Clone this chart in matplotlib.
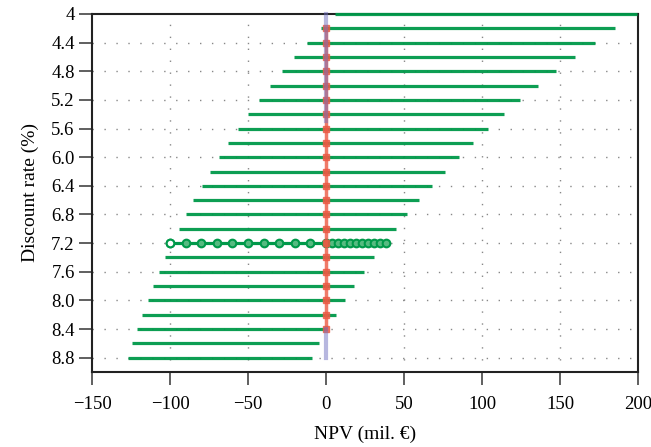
import numpy as np
import matplotlib.pyplot as plt

plt.rcParams['font.family'] = ['Liberation Serif', 'DejaVu Serif']

# discount rates (%) and NPV range (mil. EUR) at each rate
rates = [4.0, 4.2, 4.4, 4.6, 4.8, 5.0, 5.2, 5.4, 5.6, 5.8, 6.0, 6.2, 6.4,
         6.6, 6.8, 7.0, 7.2, 7.4, 7.6, 7.8, 8.0, 8.2, 8.4, 8.6, 8.8]
npv_min = [6, -3.2, -12, -20.3, -28.2, -35.9, -43.2, -50, -56.6, -62.8, -68.8,
           -74.6, -79.7, -85, -89.7, -94.2, -100, -103, -107, -110.7, -114.3,
           -117.7, -121, -124.2, -127.1]
npv_max = [199.5, 185.5, 172.2, 159.4, 147.2, 135.7, 124.6, 113.9, 103.8, 94.2,
           85.0, 76.1, 67.7, 59.6, 51.9, 44.7, 38.2, 30.8, 24.1, 18.2, 12.2,
           6.4, 0.5, -4.3, -9.2]

# highlighted rate with sample points
hl_rate = 7.2
hl_points = [-100, -90, -80, -70, -60, -50, -40, -30, -20, -10, 0,
             3.8, 7.6, 11.5, 15.3, 19.1, 22.9, 26.7, 30.6, 34.4, 38.2]

# zero markers
red_rates = [4.2, 4.4, 4.6, 4.8, 5.0, 5.2, 5.4, 5.6, 5.8, 6.0, 6.2, 6.4, 6.6,
             6.8, 7.0, 7.2, 7.4, 7.6, 7.8, 8.0, 8.2, 8.4]
blue_segments = [(4.0, 5.5), (8.4, 8.8)]

ytick_vals = [4.0, 4.4, 4.8, 5.2, 5.6, 6.0, 6.4, 6.8, 7.2, 7.6, 8.0, 8.4, 8.8]
ytick_labels = ['4', '4.4', '4.8', '5.2', '5.6', '6.0', '6.4', '6.8', '7.2',
                '7.6', '8.0', '8.4', '8.8']
xtick_vals = [-150, -100, -50, 0, 50, 100, 150, 200]

green = '#00994a'
fig = plt.figure(figsize=(6.51, 4.47), dpi=100)
ax = fig.add_axes([0.1413, 0.1678, 0.8387, 0.8009])

# dotted grid
for xv in xtick_vals[1:-1]:
    if xv != 0:
        ax.axvline(xv, color='#888888', lw=1, ls=(0, (1, 7.6)), zorder=0)
for yv in ytick_vals[1:]:
    ax.axhline(yv, color='#888888', lw=1, ls=(0, (1, 7.6)), zorder=0)

for r, lo, hi in zip(rates, npv_min, npv_max):
    if r == hl_rate:
        continue
    ax.plot([lo, hi], [r, r], color=green, lw=2.3, solid_capstyle='butt',
            zorder=3, clip_on=False, alpha=0.95)

ax.plot(hl_points, [hl_rate] * len(hl_points), color=green, lw=2.3,
        marker='o', ms=5.5, mfc='#55bb80', mec=green, mew=1.5, zorder=4)
ax.plot(hl_points[0], hl_rate, marker='o', ms=5.5, mfc='white', mec=green,
        mew=1.5, zorder=5)

ax.plot([0] * len(red_rates), red_rates, color='#ec5a44', lw=2.5,
        marker='s', ms=5, alpha=0.8, zorder=5)
for a, b in blue_segments:
    ax.plot([0, 0], [a, b], color='#7070c0', lw=3, alpha=0.5, zorder=6,
            clip_on=False)

ax.set_xlim(-150, 200)
ax.set_ylim(9.0, 4.0)
ax.set_xticks(xtick_vals)
ax.set_xticklabels([str(v).replace('-', '\u2212') for v in xtick_vals])
ax.set_yticks(ytick_vals)
ax.set_yticklabels(ytick_labels)
ax.tick_params(direction='out', length=9.5, width=1.2, color='#444444',
               labelsize=13.5, pad=3)
ax.tick_params(axis='x', pad=8)
for s in ax.spines.values():
    s.set_linewidth(1.5)
    s.set_color('#222222')

ax.set_xlabel('NPV (mil. \u20ac)', fontsize=14, labelpad=9)
ax.set_ylabel('Discount rate (%)', fontsize=14, labelpad=9)

fig.savefig('out.png', dpi=100)
